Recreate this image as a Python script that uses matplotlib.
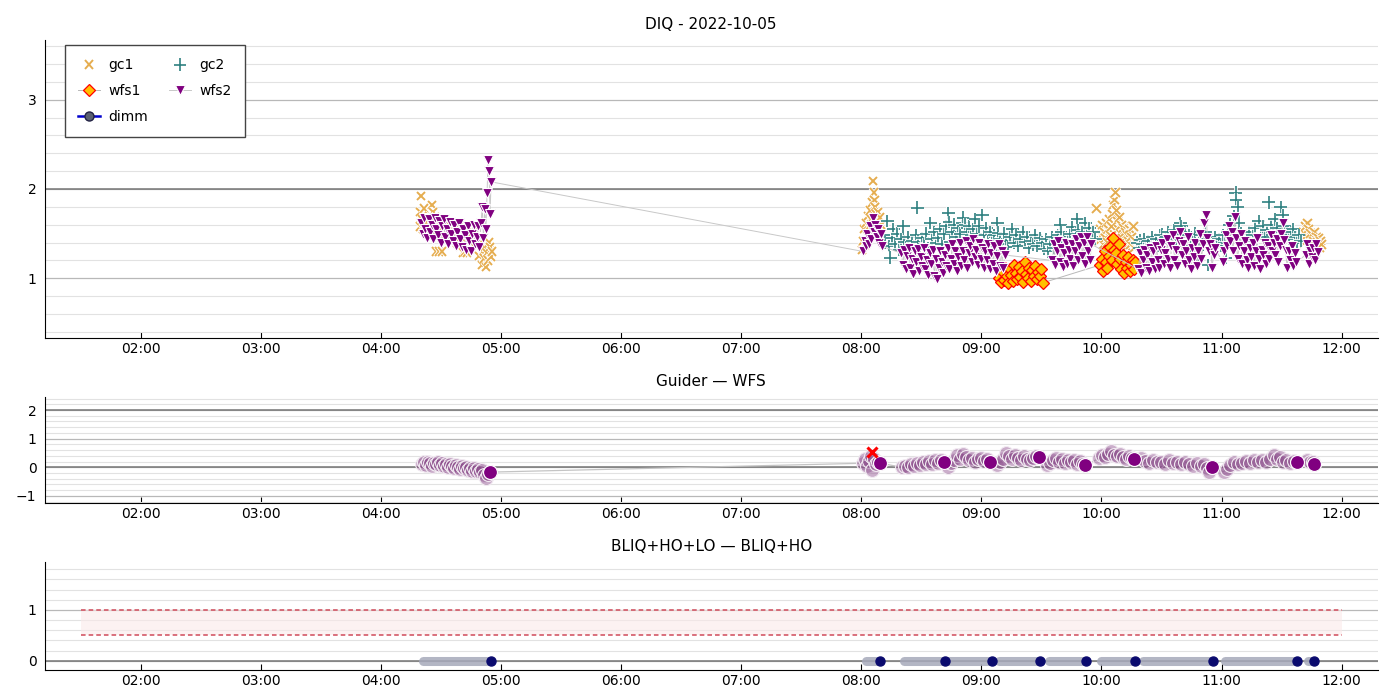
import numpy as np
import matplotlib
matplotlib.use("Agg")
import matplotlib.pyplot as plt
import matplotlib.dates as mdates
import matplotlib.patheffects as pe
from matplotlib.ticker import MultipleLocator, FixedLocator

# times are minutes after 00:00 on 2022-10-05
gc1 = [
    (259.5, 1.58), (259.8, 1.74), (260.0, 1.92), (260.5, 1.66), (261.0, 1.55), (261.5, 1.78),
    (262.0, 1.62), (263.0, 1.50), (264.0, 1.70), (265.0, 1.56), (265.5, 1.82), (266.0, 1.74),
    (266.5, 1.62), (267.0, 1.68), (267.5, 1.30), (268.0, 1.52), (269.0, 1.30), (270.0, 1.66),
    (270.5, 1.30), (271.0, 1.58), (272.0, 1.48), (273.0, 1.62), (274.0, 1.54), (275.0, 1.44),
    (276.0, 1.60), (277.0, 1.50), (278.0, 1.40), (279.0, 1.56), (280.0, 1.46), (281.0, 1.29),
    (282.0, 1.30), (283.0, 1.29), (284.0, 1.48), (285.0, 1.38), (286.0, 1.52), (287.0, 1.44),
    (288.0, 1.36), (289.0, 1.25), (290.0, 1.40), (290.5, 1.15), (291.0, 1.30), (291.5, 1.22),
    (292.0, 1.35), (292.5, 1.13), (293.0, 1.28), (293.5, 1.20), (294.0, 1.40), (294.5, 1.35),
    (295.0, 1.24), (295.5, 1.30),
    (480.5, 1.32), (481.0, 1.42), (481.5, 1.55), (482.0, 1.38), (482.5, 1.62), (483.0, 1.48),
    (483.5, 1.70), (484.0, 1.58), (484.5, 1.76), (485.0, 1.66), (485.5, 1.85), (486.0, 2.09),
    (486.3, 1.96), (486.6, 1.88), (487.0, 1.80), (487.5, 1.72), (488.0, 1.64), (488.5, 1.74),
    (489.0, 1.58), (489.5, 1.68), (490.0, 1.60),
    (597.5, 1.78), (599.0, 1.42), (599.5, 1.55), (600.0, 1.48), (600.5, 1.60), (601.0, 1.38),
    (601.5, 1.52), (602.0, 1.45), (602.5, 1.62), (603.0, 1.40), (603.5, 1.55), (604.0, 1.66),
    (604.5, 1.48), (605.0, 1.58), (605.5, 1.72), (606.0, 1.82), (606.5, 1.88), (607.0, 1.96),
    (607.5, 1.76), (608.0, 1.64), (608.5, 1.55), (609.0, 1.68), (609.5, 1.50), (610.0, 1.60),
    (610.5, 1.45), (611.0, 1.56), (611.5, 1.40), (612.0, 1.52), (612.5, 1.35), (613.0, 1.48),
    (613.5, 1.42), (614.0, 1.55), (614.5, 1.38), (615.0, 1.46), (615.5, 1.58), (616.0, 1.58),
    (616.5, 1.34), (617.0, 1.42),
    (700.5, 1.45), (701.0, 1.52), (701.5, 1.40), (702.0, 1.58), (702.5, 1.48), (703.0, 1.62),
    (703.5, 1.55), (704.0, 1.44), (704.5, 1.50), (705.0, 1.38), (705.5, 1.48), (706.0, 1.42),
    (706.5, 1.52), (707.0, 1.36), (707.5, 1.46), (708.0, 1.40), (708.5, 1.45), (709.0, 1.34),
    (709.5, 1.42), (710.0, 1.38),
]

gc2 = [
    (491.0, 1.48), (492.0, 1.40), (493.0, 1.64), (494.0, 1.36), (494.5, 1.23), (495.5, 1.45),
    (496.0, 1.55), (497.0, 1.38), (498.0, 1.50), (499.0, 1.32), (500.0, 1.44), (501.0, 1.58),
    (501.5, 1.41), (502.5, 1.35), (503.5, 1.46), (504.5, 1.30), (505.5, 1.42), (506.5, 1.36),
    (507.5, 1.48), (508.0, 1.79), (508.5, 1.41), (509.5, 1.33), (510.5, 1.45), (511.5, 1.38),
    (512.5, 1.50), (513.5, 1.34), (514.5, 1.62), (515.5, 1.44), (516.5, 1.52), (517.5, 1.40),
    (518.5, 1.45), (519.5, 1.55), (520.5, 1.38), (521.5, 1.50), (522.5, 1.58), (523.5, 1.73),
    (523.8, 1.63), (524.5, 1.41), (525.5, 1.52), (526.5, 1.60), (527.5, 1.46), (528.5, 1.56),
    (529.5, 1.50), (530.5, 1.62), (531.0, 1.68), (532.0, 1.60), (533.0, 1.52), (534.0, 1.58),
    (535.0, 1.48), (536.0, 1.55), (537.0, 1.66), (538.0, 1.50), (539.0, 1.58), (540.5, 1.71),
    (541.5, 1.48), (542.5, 1.56), (543.5, 1.42), (544.5, 1.52), (545.5, 1.40), (546.5, 1.48),
    (547.5, 1.36), (548.0, 1.62), (548.3, 1.51), (548.6, 1.12), (549.5, 1.44), (550.5, 1.38),
    (551.5, 1.50), (552.5, 1.42), (553.5, 1.35), (554.5, 1.46), (555.5, 1.55), (556.5, 1.40),
    (557.5, 1.48), (558.5, 1.36), (559.5, 1.44), (561.0, 1.52), (562.0, 1.41), (563.0, 1.46),
    (564.0, 1.34), (565.0, 1.42), (566.0, 1.38), (567.0, 1.48), (568.0, 1.36), (569.5, 1.45),
    (570.5, 1.40), (571.5, 1.33), (572.5, 1.44), (573.5, 1.30), (574.5, 1.38), (575.5, 1.46),
    (576.5, 1.34), (577.5, 1.42), (578.5, 1.48), (579.5, 1.60), (579.8, 1.52), (580.5, 1.40),
    (581.5, 1.46), (582.5, 1.36), (583.5, 1.44), (584.5, 1.50), (585.5, 1.57), (586.5, 1.42),
    (587.5, 1.50), (588.0, 1.66), (588.5, 1.54), (589.5, 1.46), (590.5, 1.52), (591.5, 1.44),
    (592.0, 1.62), (593.0, 1.50), (594.0, 1.56), (595.0, 1.46), (596.0, 1.52), (597.0, 1.44),
    (618.0, 1.40), (619.0, 1.34), (619.5, 1.43), (620.5, 1.38), (621.5, 1.44), (622.5, 1.36),
    (623.5, 1.42), (624.5, 1.34), (625.5, 1.46), (626.5, 1.38), (627.5, 1.44), (628.5, 1.36),
    (629.5, 1.48), (630.5, 1.49), (631.5, 1.40), (632.5, 1.46), (633.5, 1.52), (634.5, 1.42),
    (635.5, 1.48), (636.5, 1.54), (637.5, 1.44), (638.5, 1.50), (639.5, 1.62), (640.0, 1.58),
    (641.0, 1.46), (642.0, 1.52), (643.0, 1.40), (644.0, 1.48), (645.0, 1.36), (646.0, 1.44),
    (647.0, 1.50), (648.0, 1.21), (649.0, 1.42), (650.0, 1.48), (651.0, 1.38), (652.0, 1.52),
    (653.0, 1.44), (653.5, 1.15), (654.5, 1.40), (655.5, 1.34), (656.5, 1.46), (657.5, 1.38),
    (658.5, 1.44), (659.5, 1.36), (660.5, 1.48), (661.5, 1.40), (662.0, 1.23), (663.0, 1.52),
    (664.0, 1.60), (665.0, 1.48), (666.0, 1.70), (667.0, 1.96), (667.3, 1.88), (668.0, 1.80),
    (668.5, 1.62), (669.5, 1.50), (670.5, 1.44), (671.5, 1.38), (672.5, 1.46), (673.5, 1.52),
    (674.5, 1.42), (675.5, 1.48), (676.5, 1.56), (677.5, 1.44), (678.5, 1.64), (679.5, 1.50),
    (680.5, 1.58), (681.5, 1.46), (682.5, 1.54), (683.5, 1.85), (684.5, 1.60), (685.5, 1.52),
    (686.5, 1.66), (687.5, 1.56), (688.5, 1.48), (689.5, 1.80), (690.5, 1.71), (691.5, 1.58),
    (692.5, 1.50), (693.5, 1.44), (694.5, 1.52), (695.5, 1.55), (696.5, 1.46), (697.5, 1.40),
    (698.5, 1.48), (699.5, 1.42),
]

wfs1 = [
    (549.0, 1.00), (549.8, 0.96), (550.5, 1.08), (551.3, 0.98), (552.0, 1.12), (552.8, 1.02),
    (553.5, 0.95), (554.3, 1.10), (555.0, 1.04), (555.8, 0.97), (556.5, 1.15), (557.3, 1.06),
    (558.0, 0.99), (558.8, 1.13), (559.5, 1.01), (560.3, 1.08), (561.0, 0.96), (561.8, 1.18),
    (562.5, 1.05), (563.3, 1.00), (564.0, 1.12), (564.8, 0.97), (565.5, 1.09), (566.3, 1.03),
    (567.0, 1.14), (567.8, 0.99), (568.5, 1.07), (569.3, 1.02), (570.0, 1.10), (570.8, 0.95),
    (599.5, 1.15), (600.2, 1.22), (600.9, 1.08), (601.6, 1.30), (602.3, 1.18), (603.0, 1.12),
    (603.7, 1.25), (604.4, 1.35), (605.1, 1.20), (605.8, 1.45), (606.5, 1.32), (607.2, 1.28),
    (607.9, 1.16), (608.6, 1.38), (609.3, 1.22), (610.0, 1.10), (610.7, 1.26), (611.4, 1.06),
    (612.1, 1.18), (612.8, 1.12), (613.5, 1.24), (614.2, 1.08), (614.9, 1.15), (615.6, 1.20),
    (616.3, 1.10), (617.0, 1.18),
]

wfs2 = [
    (260.0, 1.62), (260.8, 1.50), (261.5, 1.68), (262.2, 1.55), (263.0, 1.45), (263.8, 1.66),
    (264.5, 1.52), (265.3, 1.60), (266.0, 1.44), (266.8, 1.67), (267.5, 1.55), (268.3, 1.48),
    (269.0, 1.64), (269.8, 1.40), (270.5, 1.58), (271.3, 1.66), (272.0, 1.46), (272.8, 1.55),
    (273.5, 1.38), (274.3, 1.63), (275.0, 1.50), (275.8, 1.42), (276.5, 1.60), (277.3, 1.36),
    (278.0, 1.52), (278.8, 1.62), (279.5, 1.44), (280.3, 1.35), (281.0, 1.55), (281.8, 1.48),
    (282.5, 1.32), (283.3, 1.58), (284.0, 1.42), (284.8, 1.30), (285.5, 1.50), (286.3, 1.60),
    (287.0, 1.38), (287.8, 1.46), (288.5, 1.58), (289.2, 1.35), (290.0, 1.62), (290.6, 1.80),
    (291.2, 1.45), (291.8, 1.78), (292.4, 1.55), (293.0, 1.95), (293.5, 2.33), (294.0, 2.20),
    (294.5, 1.72), (295.0, 2.08),
    (481.0, 1.30), (481.7, 1.42), (482.3, 1.36), (483.0, 1.50), (483.7, 1.38), (484.3, 1.58),
    (485.0, 1.44), (485.7, 1.67), (486.3, 1.52), (487.0, 1.60), (487.7, 1.46), (488.3, 1.55),
    (489.0, 1.40), (489.7, 1.50), (490.3, 1.36),
    (500.0, 1.28), (500.8, 1.15), (501.5, 1.32), (502.3, 1.10), (503.0, 1.25), (503.8, 1.34),
    (504.5, 1.12), (505.3, 1.22), (506.0, 1.05), (506.8, 1.30), (507.5, 1.18), (508.3, 1.33),
    (509.0, 1.08), (509.8, 1.24), (510.5, 1.14), (511.3, 1.34), (512.0, 1.10), (512.8, 1.20),
    (513.5, 1.04), (514.3, 1.28), (515.0, 1.16), (515.8, 1.32), (516.5, 1.02), (517.3, 1.22),
    (518.0, 0.99), (518.8, 1.12), (519.5, 1.30), (520.3, 1.18), (521.0, 1.06), (521.8, 1.26),
    (522.5, 1.14), (523.3, 1.34), (524.0, 1.10), (524.8, 1.22), (525.5, 1.38), (526.3, 1.16),
    (527.0, 1.30), (527.8, 1.08), (528.5, 1.24), (529.3, 1.40), (530.0, 1.14), (530.8, 1.30),
    (531.5, 1.20), (532.3, 1.42), (533.0, 1.12), (533.8, 1.28), (534.5, 1.36), (535.3, 1.18),
    (536.0, 1.44), (536.8, 1.24), (537.5, 1.32), (538.3, 1.15), (539.0, 1.40), (539.8, 1.22),
    (540.5, 1.34), (541.3, 1.12), (542.0, 1.30), (542.8, 1.20), (543.5, 1.38), (544.3, 1.10),
    (545.0, 1.28), (545.8, 1.16), (546.5, 1.36), (547.3, 1.08), (548.0, 1.25), (548.8, 1.38),
    (549.5, 1.14), (550.3, 1.30), (551.0, 1.12), (551.8, 1.26),
    (575.5, 1.20), (576.3, 1.38), (577.0, 1.15), (577.8, 1.30), (578.5, 1.42), (579.3, 1.18),
    (580.0, 1.34), (580.8, 1.13), (581.5, 1.28), (582.3, 1.40), (583.0, 1.16), (583.8, 1.32),
    (584.5, 1.22), (585.3, 1.38), (586.0, 1.14), (586.8, 1.30), (587.5, 1.44), (588.3, 1.20),
    (589.0, 1.36), (589.8, 1.46), (590.5, 1.25), (591.3, 1.40), (592.0, 1.16), (592.8, 1.46),
    (593.5, 1.30), (594.3, 1.20), (595.0, 1.38),
    (618.5, 1.10), (619.3, 1.28), (620.0, 1.06), (620.8, 1.20), (621.5, 1.32), (622.3, 1.12),
    (623.0, 1.26), (623.8, 1.08), (624.5, 1.34), (625.3, 1.18), (626.0, 1.30), (626.8, 1.10),
    (627.5, 1.36), (628.3, 1.20), (629.0, 1.12), (629.8, 1.32), (630.5, 1.40), (631.3, 1.16),
    (632.0, 1.28), (632.8, 1.44), (633.5, 1.22), (634.3, 1.12), (635.0, 1.36), (635.8, 1.48),
    (636.5, 1.20), (637.3, 1.32), (638.0, 1.14), (638.8, 1.42), (639.5, 1.52), (640.3, 1.26),
    (641.0, 1.38), (641.8, 1.16), (642.5, 1.30), (643.3, 1.46), (644.0, 1.20), (644.8, 1.10),
    (645.5, 1.34), (646.3, 1.24), (647.0, 1.40), (647.8, 1.14), (648.5, 1.30), (649.3, 1.50),
    (650.0, 1.22), (650.8, 1.38), (651.5, 1.62), (652.3, 1.71), (653.0, 1.45), (653.8, 1.30),
    (654.5, 1.38), (655.3, 1.12), (656.0, 1.26), (656.8, 1.34),
    (660.5, 1.18), (661.3, 1.30), (662.0, 1.48), (662.8, 1.36), (663.5, 1.58), (664.3, 1.42),
    (665.0, 1.52), (665.8, 1.30), (666.5, 1.69), (667.3, 1.45), (668.0, 1.22), (668.8, 1.36),
    (669.5, 1.50), (670.3, 1.16), (671.0, 1.30), (671.8, 1.42), (672.5, 1.20), (673.3, 1.12),
    (674.0, 1.34), (674.8, 1.24), (675.5, 1.40), (676.3, 1.14), (677.0, 1.30), (677.8, 1.45),
    (678.5, 1.22), (679.3, 1.10), (680.0, 1.32), (680.8, 1.26), (681.5, 1.40), (682.3, 1.16),
    (683.0, 1.36), (683.8, 1.22), (684.5, 1.48), (685.3, 1.30), (686.0, 1.40), (686.8, 1.26),
    (687.5, 1.44), (688.3, 1.18), (689.0, 1.36), (689.8, 1.50), (690.5, 1.62), (691.3, 1.43),
    (692.0, 1.32), (692.8, 1.12), (693.5, 1.30), (694.3, 1.20), (695.0, 1.36), (695.8, 1.14),
    (696.5, 1.28), (697.3, 1.18),
    (702.0, 1.26), (702.8, 1.38), (703.5, 1.16), (704.3, 1.30), (705.0, 1.24), (705.8, 1.34),
    (706.5, 1.20), (707.3, 1.38), (708.0, 1.29),
]

dimm = []

guider_wfs = [
    (260.5, 0.12), (261.5, 0.20), (262.5, 0.08), (263.5, 0.18), (264.5, 0.14), (265.5, 0.06),
    (266.5, 0.16), (267.5, 0.10), (268.5, 0.18), (269.5, 0.08), (270.5, 0.14), (271.5, 0.04),
    (272.5, 0.12), (273.5, 0.02), (274.5, 0.10), (275.5, 0.06), (276.5, -0.02), (277.5, 0.08),
    (278.5, 0.00), (279.5, -0.06), (280.5, 0.04), (281.5, -0.04), (282.5, 0.02), (283.5, -0.08),
    (284.5, -0.02), (285.5, -0.12), (286.5, -0.04), (287.5, -0.14), (288.5, -0.06), (289.5, -0.18),
    (290.5, -0.10), (291.5, -0.26), (292.5, -0.36), (293.5, -0.22), (294.5, -0.17),
    (481.0, 0.14), (482.0, 0.30), (483.0, 0.05), (484.0, 0.22), (485.0, 0.40), (485.5, -0.08),
    (486.5, 0.28), (487.5, 0.10), (488.5, 0.20), (489.5, 0.14),
    (500.5, 0.00), (502.0, 0.06), (503.5, 0.02), (505.0, 0.10), (506.5, 0.04), (508.0, 0.14),
    (509.5, 0.08), (511.0, 0.18), (512.5, 0.10), (514.0, 0.22), (515.5, 0.12), (517.0, 0.24),
    (518.5, 0.16), (520.0, 0.26), (521.5, 0.20),
    (523.5, 0.00), (525.0, 0.14), (526.5, 0.26), (528.0, 0.42), (529.5, 0.30), (531.0, 0.48),
    (532.5, 0.36), (534.0, 0.24), (535.5, 0.32), (537.0, 0.20), (538.5, 0.28), (540.0, 0.34),
    (541.5, 0.22), (543.0, 0.30), (544.5, 0.19),
    (548.0, 0.07), (549.5, 0.18), (551.0, 0.28), (552.5, 0.50), (554.0, 0.38), (555.5, 0.30),
    (557.0, 0.42), (558.5, 0.32), (560.0, 0.26), (561.5, 0.38), (563.0, 0.30), (564.5, 0.24),
    (566.0, 0.34), (567.5, 0.40), (569.0, 0.36),
    (573.0, 0.07), (574.5, 0.16), (576.0, 0.26), (577.5, 0.31), (579.0, 0.20), (580.5, 0.28),
    (582.0, 0.14), (583.5, 0.24), (585.0, 0.18), (586.5, 0.26), (588.0, 0.12), (589.5, 0.22),
    (591.0, 0.10), (592.0, 0.07),
    (599.0, 0.32), (600.5, 0.42), (602.0, 0.36), (603.5, 0.48), (605.0, 0.57), (606.5, 0.44),
    (608.0, 0.38), (609.5, 0.46), (611.0, 0.36), (612.5, 0.30), (614.0, 0.38), (615.5, 0.34),
    (616.5, 0.30),
    (620.0, 0.31), (622.0, 0.22), (624.0, 0.16), (626.0, 0.24), (628.0, 0.18), (630.0, 0.20),
    (632.0, 0.12), (634.0, 0.24), (636.0, 0.16), (638.0, 0.19), (640.0, 0.10), (642.0, 0.18),
    (644.0, 0.12), (646.0, 0.06), (648.0, 0.14), (650.0, 0.04), (651.5, 0.10), (653.0, -0.04),
    (654.0, -0.16), (655.0, 0.01),
    (661.0, -0.16), (662.5, -0.06), (664.0, 0.08), (666.0, 0.19), (668.0, 0.10), (670.0, 0.16),
    (672.0, 0.22), (674.0, 0.14), (676.0, 0.24), (678.0, 0.18), (680.0, 0.26), (682.0, 0.20),
    (684.0, 0.30), (686.0, 0.42), (687.5, 0.28), (689.0, 0.36), (690.5, 0.20), (692.0, 0.26),
    (694.0, 0.14), (696.0, 0.22), (697.5, 0.19),
    (702.5, 0.24), (704.0, 0.18), (705.5, 0.20), (706.3, 0.12),
]
guider_wfs_flagged = [(485.5, 0.52)]

# continuous BLIQ+HO+LO stretches (start, end) in minutes
segments = [
    (260.0, 295.0), (481.4, 489.5), (500.3, 521.9), (522.8, 545.2), (547.7, 569.3),
    (572.8, 592.3), (598.6, 616.7), (619.8, 655.5), (660.7, 697.7), (702.1, 706.4),
]
band_window = (90, 720)
band_limits = (0.5, 1.0)
view_window = (72, 738)

DAY = np.datetime64("2022-10-05T00:00:00")


def to_time(minutes):
    secs = np.round(np.asarray(minutes, dtype=float) * 60).astype("int64")
    return DAY + secs.astype("timedelta64[s]")


def split(pairs):
    if not pairs:
        return to_time([]), np.array([])
    t, v = zip(*pairs)
    return to_time(t), np.array(v)


def style_axis(ax, ylim, yticks, hlines):
    ax.set_xlim(to_time(view_window[0]), to_time(view_window[1]))
    ax.set_ylim(*ylim)
    ax.yaxis.set_major_locator(FixedLocator(yticks))
    ax.yaxis.set_minor_locator(MultipleLocator(0.2))
    ax.grid(True, which="major", axis="y", color="#b8b8b8", lw=0.9)
    ax.grid(True, which="minor", axis="y", color="#e2e2e2", lw=0.8)
    ax.set_axisbelow(True)
    for y in hlines:
        ax.axhline(y, color="#777777", lw=1.1, zorder=1)
    ax.xaxis.set_major_locator(mdates.HourLocator(byhour=range(2, 13)))
    ax.xaxis.set_major_formatter(mdates.DateFormatter("%H:%M"))
    ax.tick_params(axis="x", which="major", direction="in", length=4, labelsize=10, pad=3)
    ax.tick_params(axis="y", which="both", length=0, labelsize=10, pad=6)
    ax.spines["top"].set_visible(False)
    ax.spines["right"].set_visible(False)
    ax.spines["left"].set_color("black")
    ax.spines["bottom"].set_color("black")


C_GC1 = "#e3a43c"
C_GC2 = "#2f8080"
C_PURPLE = "#800080"
white_edge = [pe.withStroke(linewidth=2.6, foreground="white")]

fig = plt.figure(figsize=(14, 7), dpi=100)
ax1 = fig.add_axes([0.032, 0.517, 0.952, 0.426])
ax2 = fig.add_axes([0.032, 0.281, 0.952, 0.152])
ax3 = fig.add_axes([0.032, 0.043, 0.952, 0.154])

# --- DIQ panel ---
t, v = split(gc1)
h_gc1, = ax1.plot(t, v, ls="none", marker="x", ms=6, mew=1.4, color=C_GC1, alpha=0.9,
                  path_effects=white_edge, zorder=3, label="gc1")
t, v = split(gc2)
h_gc2, = ax1.plot(t, v, ls="none", marker="+", ms=9, mew=1.2, color=C_GC2,
                  path_effects=white_edge, zorder=3, label="gc2")
t, v = split(wfs1)
h_wfs1, = ax1.plot(t, v, color="#b8b8b8", lw=0.7, marker="D", ms=6.5,
                   mfc="#ffbf00", mec="red", mew=0.9, zorder=4, label="wfs1")
t, v = split(wfs2)
h_wfs2, = ax1.plot(t, v, color="#c8c8c8", lw=0.7, marker="v", ms=7.5,
                   mfc=C_PURPLE, mec="white", mew=0.8, zorder=4, label="wfs2")
t, v = split(dimm)
h_dimm, = ax1.plot(t, v, color="#0000cc", lw=1.8, marker="o", ms=6.5,
                   mfc="#5a6070", mec="#222244", label="dimm")

style_axis(ax1, (0.33, 3.67), [1, 2, 3], [2])
ax1.set_title("DIQ - 2022-10-05", fontsize=11, pad=8)
leg = ax1.legend(handles=[h_gc1, h_wfs1, h_dimm, h_gc2, h_wfs2], ncol=2, loc="upper left",
                 bbox_to_anchor=(0.015, 0.982), borderaxespad=0, fontsize=10, fancybox=False,
                 framealpha=1, borderpad=0.95, labelspacing=0.85, columnspacing=1.5,
                 handlelength=1.6, handletextpad=0.6)
leg.get_frame().set_edgecolor("#444444")
leg.get_frame().set_linewidth(1.0)

# --- Guider - WFS panel ---
t, v = split(guider_wfs)
ax2.plot(t, v, color="#c4c4c4", lw=0.9, zorder=2)
ax2.plot(t, v, ls="none", marker="o", ms=10, mfc=(0.55, 0.3, 0.55, 0.45),
         mec=(0.95, 0.92, 0.95), mew=0.8, zorder=3)
tm = np.array([p[0] for p in guider_wfs])
last = [int(np.argmin(np.abs(tm - end))) for _, end in segments]
ax2.plot(t[last], v[last], ls="none", marker="o", ms=10, mfc=C_PURPLE,
         mec="white", mew=0.8, zorder=4)
t, v = split(guider_wfs_flagged)
ax2.plot(t, v, ls="none", marker="x", ms=7, mew=2.2, color="red", zorder=5)
style_axis(ax2, (-1.26, 2.46), [-1, 0, 1, 2], [0, 2])
ax2.set_title("Guider \u2014 WFS", fontsize=11, pad=8)

# --- BLIQ+HO+LO panel ---
bt = to_time(band_window)
ax3.fill_between(bt, band_limits[0], band_limits[1], color="#fbeaea", alpha=0.6, lw=0, zorder=2)
ax3.hlines(band_limits, bt[0], bt[1], colors="#d04a5a", linestyles=(0, (3, 2)), lw=1.1, zorder=3)
for start, end in segments:
    st = to_time([start + 1.0, end - 1.0])
    ax3.plot(st, [0, 0], color="#a6a9ba", lw=6.5, solid_capstyle="round", alpha=0.85, zorder=3)
    ax3.plot(to_time([end]), [0], ls="none", marker="o", ms=6.5, color="#0a0a6e", zorder=4)
style_axis(ax3, (-0.18, 1.94), [0, 1], [0])
ax3.set_title("BLIQ+HO+LO \u2014 BLIQ+HO", fontsize=11, pad=8)

fig.savefig("out.png", dpi=100)
